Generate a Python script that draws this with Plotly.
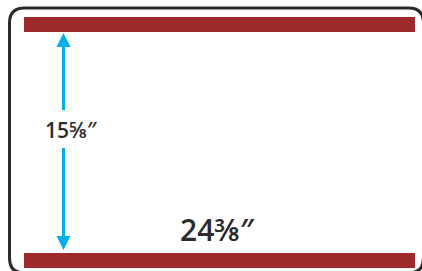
import plotly.graph_objects as go

# Data
dimension_labels = ["15⅝″", "24⅜″"]
dimension_values_in = [15.625, 24.375]
bar_names = ["top", "bottom"]
bar_x = [[24, 415], [24, 415]]
bar_y = [[17, 32], [253, 268]]

RED = "#9e292a"
BLUE = "#00aeef"
DARK = "#2b2b2b"

fig = go.Figure()

# invisible trace to establish axes
fig.add_trace(go.Scatter(x=[0, 422], y=[0, 271], mode="markers",
                         marker=dict(opacity=0), hoverinfo="skip", showlegend=False))

shapes = []
# border (rounded rectangle)
r = 15
x0, y0, x1, y1 = 9.5, 8, 423.5, 273
path = (f"M {x0+r},{y0} L {x1-r},{y0} Q {x1},{y0} {x1},{y0+r} L {x1},{y1-r} "
        f"Q {x1},{y1} {x1-r},{y1} L {x0+r},{y1} Q {x0},{y1} {x0},{y1-r} "
        f"L {x0},{y0+r} Q {x0},{y0} {x0+r},{y0} Z")
shapes.append(dict(type="path", path=path, xref="x", yref="y",
                   line=dict(color=DARK, width=3), fillcolor="rgba(0,0,0,0)"))

# bars
for bx, by in zip(bar_x, bar_y):
    shapes.append(dict(type="rect", xref="x", yref="y", x0=bx[0], x1=bx[1],
                       y0=by[0], y1=by[1], fillcolor=RED, line=dict(width=0)))

# arrow
ax = 63.5
shapes.append(dict(type="line", xref="x", yref="y", x0=ax, x1=ax, y0=45, y1=110,
                   line=dict(color=BLUE, width=3)))
shapes.append(dict(type="line", xref="x", yref="y", x0=ax, x1=ax, y0=148, y1=238,
                   line=dict(color=BLUE, width=3)))
shapes.append(dict(type="path", xref="x", yref="y",
                   path=f"M {ax},33 L {ax+7},47 L {ax-7},47 Z",
                   fillcolor=BLUE, line=dict(width=0)))
shapes.append(dict(type="path", xref="x", yref="y",
                   path=f"M {ax},250 L {ax+7},236 L {ax-7},236 Z",
                   fillcolor=BLUE, line=dict(width=0)))

annotations = [
    dict(x=71, y=130, xref="x", yref="y", text=dimension_labels[0], showarrow=False,
         font=dict(family="Open Sans", size=21, color=DARK, weight=600)),
    dict(x=217, y=229, xref="x", yref="y", text=dimension_labels[1], showarrow=False,
         font=dict(family="Open Sans", size=30, color=DARK, weight=600)),
]

fig.update_layout(
    width=422, height=271,
    margin=dict(l=0, r=0, t=0, b=0),
    paper_bgcolor="white", plot_bgcolor="white",
    xaxis=dict(range=[0, 422], visible=False, fixedrange=True),
    yaxis=dict(range=[271, 0], visible=False, fixedrange=True),
    shapes=shapes, annotations=annotations, showlegend=False,
)

fig.write_html("out.html", config={"displayModeBar": False},
               post_script="document.body.style.margin='0';document.body.style.overflow='hidden';")
